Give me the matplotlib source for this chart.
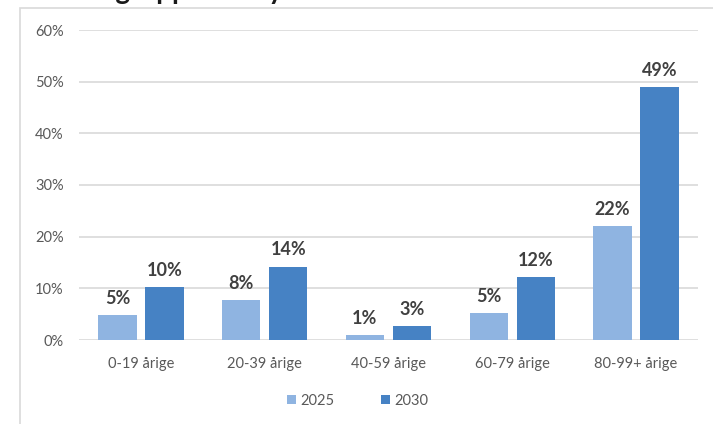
import numpy as np
import matplotlib.pyplot as plt
from matplotlib.patches import Rectangle

plt.rcParams['font.family'] = ['Lato', 'DejaVu Sans']

# data
categories = ['0-19 årige', '20-39 årige', '40-59 årige', '60-79 årige', '80-99+ årige']
years = ['2025', '2030']
values_2025 = [4.8, 7.7, 1.0, 5.2, 22.0]
values_2030 = [10.3, 14.2, 2.7, 12.2, 48.9]
y_ticks = [0, 10, 20, 30, 40, 50, 60]

col_2025 = '#8fb4e1'
col_2030 = '#4682c4'
txt_col = '#404040'
tick_col = '#595959'


def visualize(values_a, values_b):
    fig = plt.figure(figsize=(7.13, 4.24), dpi=100)

    # outer chart frame
    fig.patches.append(Rectangle((20/713, -0.05), 1.0, 1.05 - 8/424, transform=fig.transFigure,
                                 fill=False, edgecolor='#d9d9d9', lw=1.2))
    # title, mostly cut off at the top (as in the source picture)
    fig.text(36/713, 1 + 1/424, 'Aldersgruppe for byen', fontsize=20, fontweight='bold',
             color='#1a1a1a', va='baseline', ha='left')

    ax = fig.add_axes([79/713, 1 - 340/424, (698 - 79)/713, (340 - 30)/424])
    x = np.arange(len(categories))
    w = 0.31
    off = 0.19
    b1 = ax.bar(x - off, values_a, width=w, color=col_2025, label=years[0], zorder=3)
    b2 = ax.bar(x + off, values_b, width=w, color=col_2030, label=years[1], zorder=3)

    for bars in (b1, b2):
        for r in bars:
            h = r.get_height()
            ax.text(r.get_x() + r.get_width()/2, h + 1.6, '{:.0f}%'.format(h), ha='center', va='bottom',
                    fontsize=13, fontweight='bold', color=txt_col)

    ax.set_xlim(-0.5, len(categories) - 0.5)
    ax.set_ylim(0, 60)
    ax.set_yticks(y_ticks)
    ax.set_yticklabels(['{}%'.format(t) for t in y_ticks])
    ax.set_xticks(x)
    ax.set_xticklabels(categories)
    ax.yaxis.grid(True, color='#d9d9d9', lw=1.2, zorder=0)
    for s in ax.spines.values():
        s.set_visible(False)
    ax.tick_params(axis='both', length=0, labelsize=10.5, colors=tick_col)
    ax.tick_params(axis='x', pad=12)
    ax.tick_params(axis='y', pad=11)

    fig.legend(loc='center', bbox_to_anchor=(358/713, 1 - 401/424), ncol=2, frameon=False,
               fontsize=10.5, handlelength=0.6, handleheight=0.6, handletextpad=0.3,
               columnspacing=3.2, labelcolor=tick_col)

    fig.savefig('out.png', dpi=100)


if __name__ == '__main__':
    visualize(values_2025, values_2030)
